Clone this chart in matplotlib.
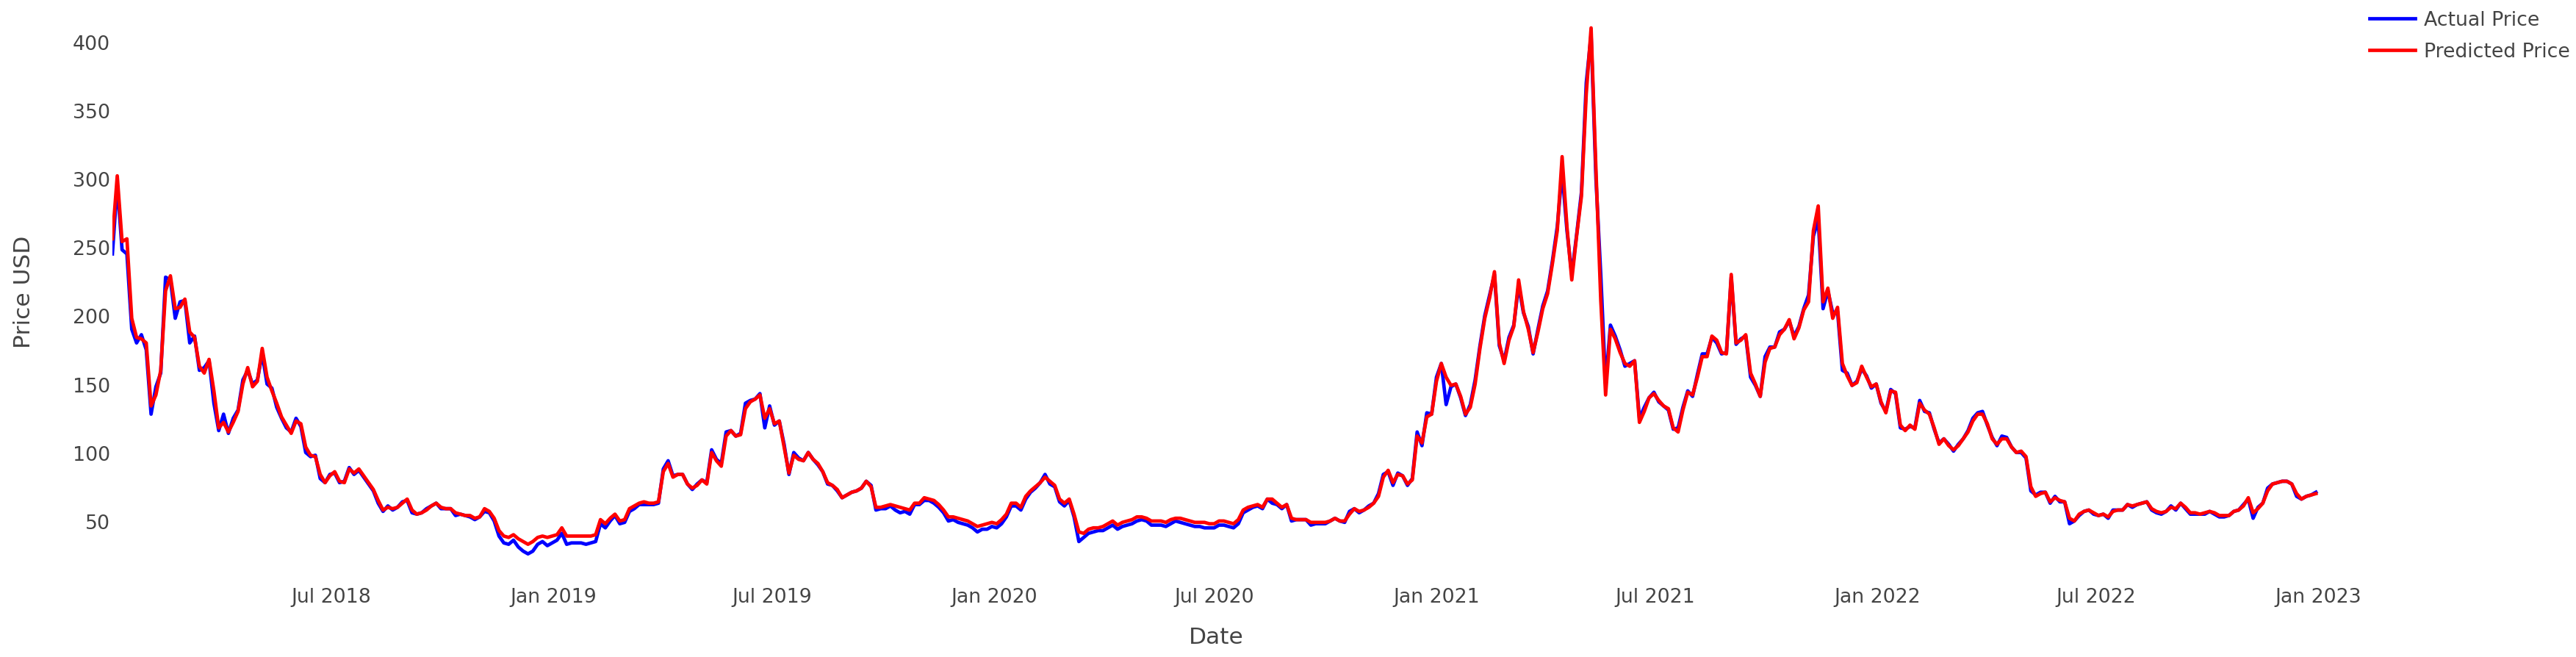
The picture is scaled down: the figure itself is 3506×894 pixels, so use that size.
import numpy as np
import pandas as pd
import matplotlib
matplotlib.use("Agg")
import matplotlib.pyplot as plt
import matplotlib.dates as mdates

# price samples every 4 days, 2018-01-01 .. 2022-12-30
dates = pd.date_range("2018-01-01", "2022-12-31", freq="4D")

actual_price = [
    245, 296, 248, 245, 190, 180, 186, 175, 128, 148,
    158, 228, 226, 198, 210, 211, 180, 185, 160, 162,
    167, 136, 116, 128, 114, 125, 131, 153, 160, 150,
    153, 172, 150, 147, 133, 125, 118, 115, 125, 119,
    100, 97, 98, 81, 78, 84, 85, 78, 79, 89,
    84, 87, 82, 77, 72, 63, 57, 61, 58, 60,
    64, 65, 56, 55, 56, 59, 61, 63, 59, 59,
    59, 54, 55, 54, 53, 51, 53, 57, 56, 50,
    39, 34, 33, 36, 31, 28, 26, 28, 33, 35,
    32, 34, 36, 41, 33, 34, 34, 34, 33, 34,
    35, 48, 45, 50, 54, 48, 49, 57, 59, 62,
    62, 62, 62, 63, 88, 94, 83, 84, 84, 77,
    73, 77, 80, 78, 102, 95, 92, 115, 116, 112,
    114, 136, 138, 139, 143, 118, 134, 120, 123, 106,
    84, 100, 96, 94, 100, 95, 91, 86, 77, 76,
    72, 67, 69, 71, 72, 74, 79, 76, 58, 59,
    59, 61, 58, 56, 57, 55, 62, 62, 65, 65,
    63, 60, 56, 50, 51, 49, 48, 47, 45, 42,
    44, 44, 46, 45, 48, 53, 61, 61, 58, 66,
    71, 74, 78, 84, 77, 75, 64, 61, 65, 53,
    35, 38, 41, 42, 43, 43, 45, 47, 44, 46,
    47, 48, 50, 51, 50, 47, 47, 47, 46, 48,
    50, 49, 48, 47, 46, 46, 45, 45, 45, 47,
    47, 46, 45, 48, 56, 58, 60, 61, 59, 66,
    63, 62, 59, 62, 50, 51, 51, 51, 47, 48,
    48, 48, 50, 52, 50, 49, 57, 59, 56, 58,
    61, 63, 70, 84, 86, 76, 85, 83, 76, 81,
    115, 105, 129, 128, 155, 165, 135, 148, 150, 140,
    127, 135, 153, 178, 200, 215, 230, 178, 167, 184,
    193, 222, 202, 192, 172, 190, 207, 218, 240, 265,
    305, 262, 230, 259, 290, 370, 405, 300, 230, 150,
    193, 185, 175, 163, 165, 167, 125, 133, 140, 144,
    137, 134, 131, 117, 118, 133, 145, 141, 157, 172,
    172, 184, 180, 172, 173, 228, 179, 183, 185, 155,
    149, 141, 170, 177, 177, 188, 190, 196, 185, 192,
    205, 215, 258, 270, 205, 218, 202, 203, 160, 158,
    149, 152, 161, 156, 147, 150, 136, 130, 146, 143,
    118, 117, 119, 118, 138, 130, 129, 117, 107, 110,
    106, 101, 106, 110, 116, 125, 129, 130, 120, 111,
    105, 112, 111, 104, 100, 100, 96, 72, 69, 71,
    71, 63, 68, 64, 64, 48, 50, 54, 57, 58,
    55, 54, 55, 52, 58, 58, 58, 62, 60, 62,
    63, 64, 58, 56, 55, 57, 61, 58, 63, 59,
    55, 55, 55, 55, 57, 55, 53, 53, 54, 57,
    58, 62, 66, 52, 60, 63, 74, 77, 78, 79,
    79, 77, 68, 66, 68, 69, 71,
]

predicted_price = [
    256, 302, 254, 256, 198, 184, 183, 180, 134, 142,
    160, 218, 229, 205, 206, 212, 188, 184, 163, 158,
    168, 145, 118, 122, 115, 122, 130, 150, 162, 148,
    152, 176, 155, 145, 136, 126, 120, 114, 123, 121,
    104, 98, 97, 84, 78, 83, 86, 79, 78, 88,
    85, 88, 83, 78, 73, 65, 58, 60, 59, 60,
    63, 66, 58, 55, 56, 58, 61, 63, 60, 59,
    59, 56, 55, 54, 54, 52, 53, 59, 57, 52,
    43, 39, 38, 40, 37, 35, 33, 35, 38, 39,
    38, 39, 40, 45, 39, 39, 39, 39, 39, 39,
    40, 51, 48, 52, 55, 50, 51, 59, 61, 63,
    64, 63, 63, 64, 86, 92, 82, 84, 84, 77,
    74, 76, 80, 77, 100, 94, 90, 112, 116, 112,
    113, 132, 137, 139, 142, 125, 132, 121, 123, 104,
    85, 98, 95, 94, 100, 95, 92, 86, 78, 76,
    73, 67, 69, 71, 72, 74, 79, 75, 60, 60,
    61, 62, 61, 60, 59, 58, 63, 63, 67, 66,
    65, 62, 58, 53, 53, 52, 51, 50, 48, 46,
    47, 48, 49, 48, 51, 55, 63, 63, 60, 68,
    72, 75, 78, 82, 79, 76, 66, 63, 66, 55,
    42, 41, 44, 45, 45, 46, 48, 50, 47, 49,
    50, 51, 53, 53, 52, 50, 50, 50, 49, 51,
    52, 52, 51, 50, 49, 49, 49, 48, 48, 50,
    50, 49, 48, 51, 58, 60, 61, 62, 60, 66,
    66, 63, 60, 62, 52, 51, 51, 51, 49, 49,
    49, 49, 50, 52, 50, 50, 55, 59, 57, 58,
    60, 63, 68, 82, 87, 78, 84, 83, 77, 80,
    112, 107, 126, 128, 152, 165, 155, 149, 150, 141,
    128, 133, 150, 176, 198, 213, 232, 180, 165, 182,
    192, 226, 203, 190, 173, 188, 205, 216, 238, 262,
    316, 265, 226, 258, 287, 362, 410, 307, 211, 142,
    190, 183, 173, 165, 163, 167, 122, 130, 140, 143,
    138, 134, 132, 118, 115, 131, 144, 142, 155, 170,
    170, 185, 182, 173, 172, 230, 180, 182, 186, 158,
    150, 141, 166, 176, 177, 186, 190, 197, 183, 191,
    204, 210, 262, 280, 210, 220, 198, 206, 165, 156,
    149, 151, 163, 155, 148, 150, 137, 129, 145, 144,
    120, 116, 120, 117, 136, 131, 128, 118, 106, 110,
    105, 102, 105, 110, 115, 123, 128, 128, 121, 110,
    106, 110, 110, 104, 100, 101, 97, 75, 68, 70,
    71, 64, 67, 65, 64, 52, 50, 55, 57, 58,
    56, 54, 55, 53, 57, 58, 58, 62, 61, 62,
    63, 64, 59, 57, 56, 57, 60, 59, 63, 60,
    56, 56, 55, 56, 57, 56, 54, 54, 54, 57,
    58, 61, 67, 56, 59, 63, 72, 77, 78, 79,
    79, 77, 70, 66, 68, 69, 70,
]

y_ticks = [50, 100, 150, 200, 250, 300, 350, 400]
x_ticks = pd.date_range("2018-07-01", "2023-01-01", freq="6MS")

plt.rcParams["font.family"] = ["DejaVu Sans"]
txt = "#444444"

W, H = 3506, 895
fig = plt.figure(figsize=(W / 100, H / 100), dpi=100)
ax = fig.add_axes([153 / W, 1 - 794 / H, (3157 - 153) / W, 794 / H])

ax.plot(dates, actual_price, color="blue", lw=3.4, label="Actual Price")
ax.plot(dates, predicted_price, color="red", lw=3.4, label="Predicted Price")

ax.set_xlim(pd.Timestamp("2018-01-01"), pd.Timestamp("2023-01-02"))
ax.set_ylim(4.9, 430.9)
ax.set_yticks(y_ticks)
ax.set_xticks(x_ticks)
ax.xaxis.set_major_formatter(mdates.DateFormatter("%b %Y"))

for s in ax.spines.values():
    s.set_visible(False)
ax.tick_params(axis="both", length=0, labelsize=19.3, labelcolor=txt)
ax.tick_params(axis="x", pad=4.5)
ax.tick_params(axis="y", pad=2.2)

fig.text(33 / W, 1 - 397 / H, "Price USD", rotation=90, ha="center", va="center",
         fontsize=22.5, color=txt)
fig.text(1655 / W, 1 - 868 / H, "Date", ha="center", va="center",
         fontsize=22.5, color=txt)

leg = fig.legend(loc="upper left", bbox_to_anchor=(3225 / W, 1 - 15 / H),
                 frameon=False, fontsize=19.3, borderpad=0, borderaxespad=0,
                 handlelength=2.3, handletextpad=0.45, labelspacing=0.65)
for t in leg.get_texts():
    t.set_color(txt)

fig.savefig("out.png", dpi=100)
